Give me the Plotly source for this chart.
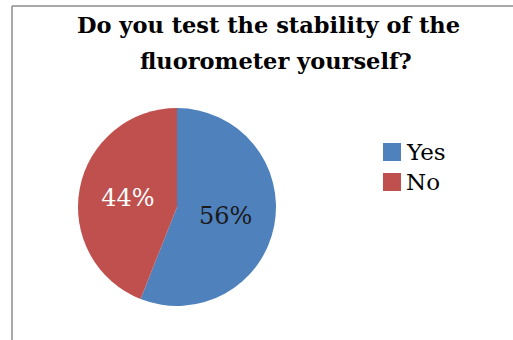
import plotly.graph_objects as go

# Survey answers and their shares (percent)
answers = ["Yes", "No"]
shares = [56, 44]
slice_colors = ["#4F81BD", "#C0504D"]
label_colors = ["#1a1a1a", "#ffffff"]

title_lines = ["Do you test the stability of the", "fluorometer yourself?"]

W, H = 513, 340
SERIF = "DejaVu Serif"


def px(x):
    return x / W


def py(y):
    return 1 - y / H


fig = go.Figure(
    go.Pie(
        labels=answers,
        values=shares,
        sort=False,
        direction="clockwise",
        rotation=0,
        marker=dict(colors=slice_colors, line=dict(width=0)),
        texttemplate="%{value}%",
        textposition="inside",
        insidetextorientation="horizontal",
        insidetextfont=dict(family=SERIF, size=24, color=label_colors),
        domain=dict(x=[px(78), px(276)], y=[py(306), py(108)]),
        hoverinfo="label+percent",
        showlegend=False,
    )
)

annotations = []
shapes = []

# Two-line chart title
for line, (cx, base) in zip(title_lines, [(268, 32), (276, 68)]):
    annotations.append(dict(
        text=f"<b>{line}</b>", xref="paper", yref="paper",
        x=px(cx), y=py(base + 8), xanchor="center", yanchor="bottom",
        showarrow=False,
        font=dict(family=SERIF, size=22.5, color="#000000"),
    ))

# Legend: colour square plus answer text
for i, (name, col) in enumerate(zip(answers, slice_colors)):
    cy = 152 + 30 * i
    shapes.append(dict(
        type="rect", xref="paper", yref="paper",
        x0=px(383), x1=px(401), y0=py(cy + 9), y1=py(cy - 9),
        fillcolor=col, line=dict(width=0),
    ))
    annotations.append(dict(
        text=name, xref="paper", yref="paper",
        x=px(404), y=py(cy), xanchor="left", yanchor="middle",
        showarrow=False,
        font=dict(family=SERIF, size=23, color="#000000"),
    ))

# Chart frame (top and left edges)
shapes += [
    dict(type="line", xref="paper", yref="paper",
         x0=px(12), x1=1, y0=py(6), y1=py(6),
         line=dict(color="#8c8c8c", width=1.5)),
    dict(type="line", xref="paper", yref="paper",
         x0=px(12), x1=px(12), y0=0, y1=py(6),
         line=dict(color="#8c8c8c", width=1.5)),
]

fig.update_layout(
    width=W,
    height=H,
    margin=dict(l=0, r=0, t=0, b=0),
    paper_bgcolor="white",
    plot_bgcolor="white",
    showlegend=False,
    annotations=annotations,
    shapes=shapes,
)

fig.write_html("out.html")
